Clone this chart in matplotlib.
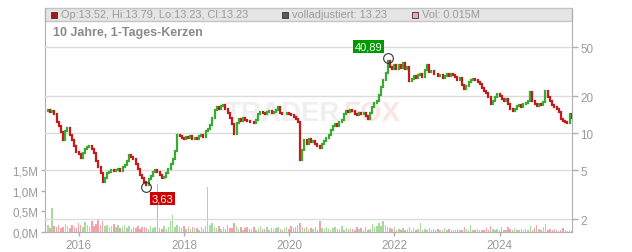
import matplotlib
matplotlib.use('Agg')
from matplotlib import pyplot as plt
from matplotlib.patches import Rectangle
import matplotlib.dates as mdates
import pandas as pd
import numpy as np

plt.rcParams['font.family'] = ['Liberation Sans', 'DejaVu Sans']

# semi-monthly closes (EUR), from mid-May 2015
closes = [
    15.1, 15.3, 14.8, 15.2, 14.2, 12.3, 11.4, 10.3, 8.8, 10.4, 10.9, 9.6, 8.8, 7.8, 7.0,
    6.8, 6.3, 6.9, 7.4, 7.7, 7.9, 7.4, 6.9, 5.9, 5.3, 4.7, 4.0, 4.3, 4.7, 4.8,
    5.0, 4.9, 5.0, 5.1, 4.9, 5.3, 5.5, 5.9, 6.6, 6.4, 6.1, 5.6, 5.1, 4.6, 4.3,
    4.0, 3.8, 4.2, 4.5, 4.8, 5.0, 4.8, 4.6, 4.3, 4.4, 4.7, 5.1, 5.6, 6.2, 7.2,
    9.6, 9.5, 9.2, 9.0, 9.3, 9.1, 9.4, 9.0, 9.2, 8.9, 9.4, 9.6, 9.3, 10.4, 10.8,
    11.6, 13.3, 15.4, 16.2, 15.8, 16.6, 17.0, 15.8, 14.6, 13.3, 11.8, 9.8, 12.1, 13.0, 12.6,
    13.2, 12.8, 12.5, 12.2, 12.4, 12.1, 12.7, 14.4, 14.9, 14.5, 14.3, 14.8, 15.0, 14.6, 14.8,
    15.4, 16.4, 14.6, 14.2, 14.4, 14.6, 14.3, 14.0, 13.4, 13.0, 12.4, 6.0, 7.3, 8.8, 8.2,
    8.9, 8.4, 8.7, 8.1, 7.8, 7.5, 8.2, 8.7, 9.2, 9.6, 10.6, 11.4, 11.8, 11.5, 12.2,
    12.8, 14.3, 15.2, 14.8, 15.4, 15.0, 14.4, 14.1, 14.6, 14.2, 14.5, 13.8, 13.1, 14.5, 16.2,
    17.6, 18.4, 20.5, 23.5, 27.2, 31.0, 38.5, 34.5, 33.0, 35.5, 33.5, 36.0, 34.0, 37.0, 33.0,
    34.5, 26.5, 27.5, 29.0, 27.8, 29.5, 30.2, 28.8, 32.5, 35.5, 31.5, 32.0, 30.5, 30.0, 29.2,
    29.6, 28.2, 29.0, 30.2, 29.0, 30.5, 29.8, 28.8, 27.2, 28.0, 24.5, 22.8, 24.0, 26.2, 27.2,
    27.5, 26.8, 26.0, 25.0, 23.2, 22.0, 21.2, 19.5, 17.4, 18.2, 19.6, 20.6, 20.2, 19.0, 18.4,
    19.0, 17.2, 15.6, 15.0, 15.8, 16.5, 16.8, 16.4, 17.2, 17.6, 18.2, 21.5, 18.2, 17.2, 16.6,
    17.4, 17.0, 18.0, 22.0, 19.8, 18.2, 16.8, 16.2, 15.8, 14.8, 13.0, 12.6, 12.2, 12.0, 14.2, 13.23,
]

# volume per bar in thousand shares
volumes_k = [
    120, 160, 90, 590, 140, 110, 180, 90, 130, 200, 150, 100, 170, 120, 90,
    220, 160, 120, 240, 180, 130, 280, 150, 200, 310, 180, 260, 140, 170, 120,
    150, 200, 110, 160, 90, 130, 180, 100, 140, 80, 120, 90, 150, 70, 110,
    130, 90, 80, 140, 100, 120, 1170, 90, 70, 150, 80, 110, 260, 410, 130,
    180, 120, 90, 150, 80, 110, 70, 130, 90, 100, 60, 120, 80, 140, 1100,
    160, 220, 130, 90, 150, 80, 110, 70, 180, 100, 90, 230, 140, 70, 110,
    60, 90, 130, 70, 80, 120, 60, 100, 150, 80, 70, 110, 60, 90, 70,
    100, 130, 80, 60, 90, 110, 70, 140, 100, 120, 160, 230, 130, 90, 110,
    80, 100, 70, 130, 60, 270, 90, 70, 110, 80, 60, 90, 120, 70, 80,
    150, 60, 90, 70, 100, 80, 60, 130, 70, 90, 50, 110, 60, 80, 190,
    120, 150, 210, 140, 270, 180, 120, 90, 70, 110, 60, 80, 50, 90, 60,
    70, 110, 60, 90, 50, 80, 220, 60, 70, 50, 90, 60, 70, 40, 80,
    50, 60, 90, 40, 70, 50, 60, 40, 80, 50, 60, 110, 70, 50, 180,
    60, 40, 70, 50, 60, 40, 90, 60, 150, 70, 50, 80, 40, 110, 60,
    50, 130, 70, 40, 90, 60, 50, 80, 40, 70, 60, 150, 50, 90, 160,
    70, 50, 110, 190, 60, 80, 40, 70, 50, 30, 60, 90, 40, 30, 60, 15,
]

low_date, low_value = '2017-04-12', 3.63
high_date, high_value = '2021-11-15', 40.89

price_ticks = [2, 5, 10, 20, 50]
vol_ticks = [0, 0.5e6, 1.0e6, 1.5e6]
vol_labels = ['0,0M', '0,5M', '1,0M', '1,5M']
year_ticks = [2016, 2018, 2020, 2022, 2024]

header_text = ['Op:13.52, Hi:13.79, Lo:13.23, Cl:13.23', 'volladjustiert: 13.23', 'Vol: 0.015M']
header_colors = ['#b01515', '#5a5a5a', '#f2a7b0']
title = '10 Jahre, 1-Tages-Kerzen'

dates = pd.date_range('2015-05-15', periods=len(closes), freq='SMS')
closes = np.array(closes)
opens = np.concatenate([[closes[0]], closes[:-1]])
up = closes >= opens
volumes = np.array(volumes_k) * 1000.0

red = '#c41a1a'
green = '#3aab32'
grid_c = '#dcdcdc'
txt_c = '#9a9a9a'

W, H = 632, 253
fig = plt.figure(figsize=(W / 100, H / 100), dpi=100)
ax = fig.add_axes([45 / W, 20 / H, 527 / W, 224 / H])
ax2 = ax.twinx()

# volume (left axis)
vcol = np.where(up, '#a6dba0', '#f2a3aa')
ax.bar(dates, volumes, width=10, color=vcol, linewidth=0, zorder=2)
ax.set_ylim(0, 5.46e6)
ax.set_yticks(vol_ticks)
ax.set_yticklabels(vol_labels)
ax.set_xlim(pd.Timestamp('2015-05-12'), pd.Timestamp('2025-05-18'))
ax.set_xticks([pd.Timestamp(f'{y}-01-01') for y in year_ticks])
ax.xaxis.set_major_formatter(mdates.DateFormatter('%Y'))

# header band
ax.add_patch(Rectangle((0, 0.942), 1, 0.058, transform=ax.transAxes,
                       facecolor='#e5e5e5', edgecolor='#c4c4c4', lw=1, zorder=0, clip_on=False))
xs = [51, 282, 412]
for t, c, x0 in zip(header_text, header_colors, xs):
    fig.patches.append(Rectangle((x0 / W, (H - 19) / H), 6 / W, 6 / H, transform=fig.transFigure,
                                 facecolor=c, edgecolor='#333333', lw=0.6))
    fig.text((x0 + 10) / W, (H - 15.5) / H, t, fontsize=7.9, color=txt_c, va='center')
fig.text(53 / W, (H - 33) / H, title, fontsize=9, color='#8a8a8a', fontweight='bold', va='center')

# watermark
ax.text(0.56, 0.53, 'TRADER', transform=ax.transAxes, fontsize=20, fontweight='bold',
        color='#efefef', ha='right', va='center', zorder=1)
ax.text(0.565, 0.53, 'FOX', transform=ax.transAxes, fontsize=20, fontweight='bold',
        color='#fbe5e5', ha='left', va='center', zorder=1)

# price candles (right axis, log)
ax2.set_yscale('log')
ax2.set_ylim(1.57, 104)
col = np.where(up, green, red)
lo = np.minimum(opens, closes)
hi = np.maximum(opens, closes)
lc = ax2.vlines(dates, lo, hi, colors=col, lw=1.6, zorder=3)
lc.set_capstyle('projecting')

ax2.plot(pd.Timestamp(low_date), low_value, 'o', ms=7, mfc='none', mec='#333333', mew=0.8, zorder=5)
ax2.plot(pd.Timestamp(high_date), high_value, 'o', ms=7, mfc='none', mec='#333333', mew=0.8, zorder=5)
ax2.annotate(f'{low_value:.2f}'.replace('.', ','), (pd.Timestamp(low_date), low_value),
             xytext=(4, -8), textcoords='offset points', ha='left', va='center',
             fontsize=8, color='white', zorder=6,
             bbox=dict(boxstyle='square,pad=0.15', fc='#cc0000', ec='none'))
ax2.annotate(f'{high_value:.2f}'.replace('.', ','), (pd.Timestamp(high_date), high_value),
             xytext=(-4, 8), textcoords='offset points', ha='right', va='center',
             fontsize=8, color='white', zorder=6,
             bbox=dict(boxstyle='square,pad=0.15', fc='#009a00', ec='none'))

ax2.set_yticks(price_ticks)
ax2.set_yticklabels([str(p) for p in price_ticks])
ax2.yaxis.set_minor_locator(matplotlib.ticker.NullLocator())
ax2.grid(True, color=grid_c, lw=1)
ax2.set_axisbelow(True)

for a in (ax, ax2):
    for s in a.spines.values():
        s.set_visible(False)
ax.spines['bottom'].set_visible(True)
ax.spines['bottom'].set_color('#b0b0b0')
ax.spines['left'].set_visible(True)
ax.spines['left'].set_color('#b0b0b0')
ax2.spines['right'].set_visible(True)
ax2.spines['right'].set_color('#b0b0b0')

ax.tick_params(axis='both', colors='#b0b0b0', labelcolor=txt_c, labelsize=8.4, length=3, width=1, pad=2)
ax2.tick_params(axis='y', colors='#b0b0b0', labelcolor=txt_c, labelsize=8.4, length=4, width=1, pad=2)

fig.savefig('out.png', dpi=100)
